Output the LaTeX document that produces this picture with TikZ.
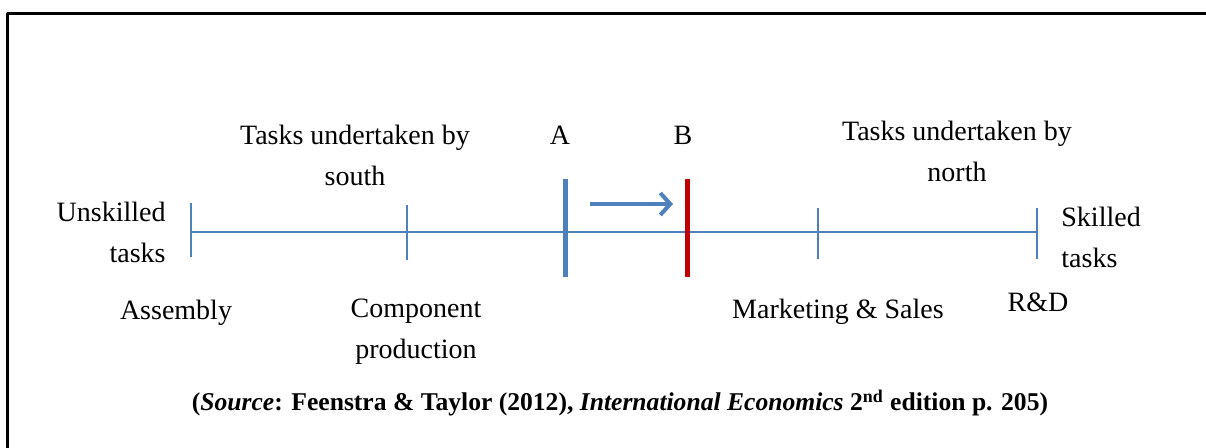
\documentclass[tikz,border=0pt]{standalone}
\usepackage{fontspec}
\setmainfont{Liberation Serif}
\usetikzlibrary{arrows.meta,positioning}
\definecolor{axisblue}{HTML}{4F81BD}
\definecolor{shiftred}{HTML}{C00000}
\tikzset{lab/.style={font=\fontsize{14}{20.5}\selectfont,inner sep=0pt,align=center},
  tick/.style={axisblue,line width=1.3pt}}

\begin{document}
\begin{tikzpicture}[x=0.5pt,y=-0.5pt,line join=round]
\useasboundingbox (0,0) rectangle (1206,448);
\coordinate (FL) at (7,448);
\coordinate (FC) at (7,14);
\coordinate (FR) at (1206,14);
\draw[line width=1.5pt] (FL)--(FC)--(FR);
\coordinate (L) at (191,232);
\coordinate (R) at (1037,232);
\draw[axisblue,line width=1.4pt] (L)--(R);
\foreach \i/\x/\t/\b in {t1/191/203/257,t2/407/205/260,t4/818/208/259,t5/1037/208/259}{\coordinate (\i a) at (\x,\t); \coordinate (\i b) at (\x,\b); \draw[tick] (\i a)--(\i b);}
\coordinate (Aa) at (565,179); \coordinate (Ab) at (565,277);
\coordinate (Ba) at (687,179); \coordinate (Bb) at (687,277);
\draw[axisblue,line width=2.5pt] (Aa)--(Ab);
\draw[shiftred,line width=2.5pt] (Ba)--(Bb);
\coordinate (s1) at (590,204); \coordinate (s2) at (673,204);
\draw[axisblue,line width=2pt,-{Straight Barb[length=5pt,width=11pt]}] (s1)--(s2);
\node[lab] (south) at (355,155.5) {Tasks undertaken by\\south};
\node[lab] (north) at (957,151) {Tasks undertaken by\\north};
\node[lab,anchor=base] (A) at (560,145) {A};
\node[lab,anchor=base] (B) at (683,145) {B};
\node[lab,align=right,anchor=east] (unsk) at (166,232.5) {Unskilled\\tasks};
\node[lab,align=left,anchor=west] (sk) at (1061,237.5) {Skilled\\tasks};
\node[lab,anchor=base] (asm) at (176,320) {Assembly};
\node[lab] (comp) at (416,331.5) {Component\\production};
\node[lab,anchor=base] (mkt) at (838,319) {Marketing \& Sales};
\node[lab,anchor=base] (rd) at (1038,312) {R\&D};
\node[lab,font=\fontsize{12.8}{18}\selectfont\bfseries,anchor=base] (src) at (620,411) {(\textit{Source}: Feenstra \& Taylor (2012), \textit{International Economics} 2\textsuperscript{nd} edition p. 205)};
\end{tikzpicture}
\end{document}
